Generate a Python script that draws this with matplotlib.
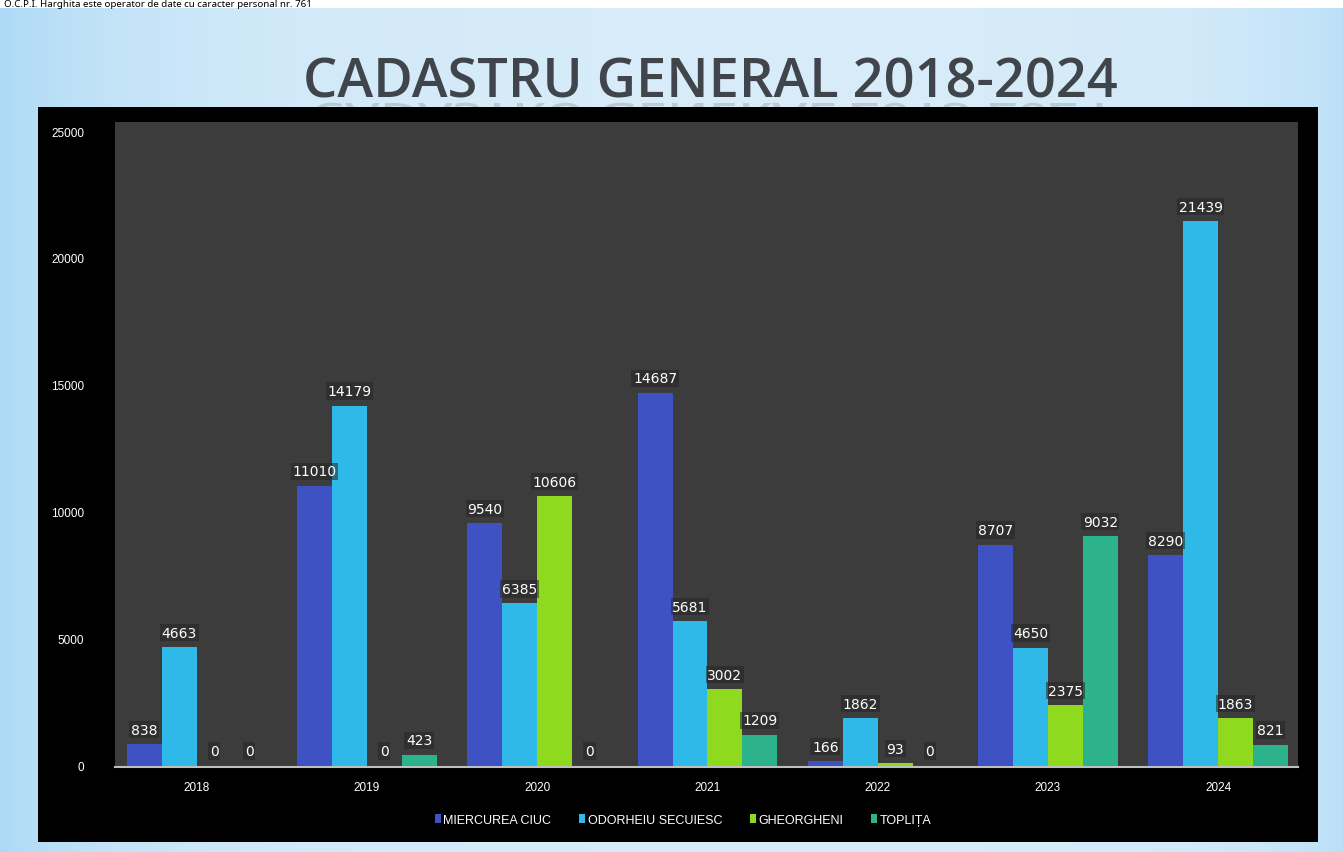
import numpy as np
import matplotlib
matplotlib.use("Agg")
import matplotlib.pyplot as plt
from matplotlib.textpath import TextPath
from matplotlib.patches import PathPatch, Rectangle
from matplotlib.font_manager import FontProperties
from matplotlib.colors import LinearSegmentedColormap
from matplotlib import transforms

# date
years = ["2018", "2019", "2020", "2021", "2022", "2023", "2024"]
series_names = ["MIERCUREA CIUC", "ODORHEIU SECUIESC", "GHEORGHENI", "TOPLIȚA"]
miercurea_ciuc = [838, 11010, 9540, 14687, 166, 8707, 8290]
odorheiu = [4663, 14179, 6385, 5681, 1862, 4650, 21439]
gheorgheni = [0, 0, 10606, 3002, 93, 2375, 1863]
toplita = [0, 423, 0, 1209, 0, 9032, 821]
yticks = [0, 5000, 10000, 15000, 20000, 25000]

colors = ["#3f52c4", "#2fb9e8", "#8fd91e", "#2db38c"]

fig = plt.figure(figsize=(13.43, 8.53), dpi=100)

# fundal cu gradient albastru deschis
bg = fig.add_axes([0, 0, 1, 0.99])
bg.axis("off")
xx = np.linspace(0, 1, 400)
g = 1 - np.exp(-xx / 0.12) * 0.9 - np.exp(-(1 - xx) / 0.08) * 0.6
grad = np.tile(g, (50, 1))
cm = LinearSegmentedColormap.from_list("bl", ["#a9d8f6", "#d8ecf9"])
bg.imshow(grad, cmap=cm, aspect="auto", extent=[0, 1, 0, 1], vmin=0, vmax=1)
bg.set_xlim(0, 1)
bg.set_ylim(0, 1)

fig.text(0.003, 0.9995, "O.C.P.I. Harghita este operator de date cu caracter personal nr. 761",
         fontsize=7, family="Noto Sans", color="black", ha="left", va="top")

# titlu + reflexie
title = "CADASTRU GENERAL 2018-2024"
fp = FontProperties(family="Open Sans", weight="semibold")
tp = TextPath((0, 0), title, size=53, prop=fp)
ext = tp.get_extents()
tr = (transforms.Affine2D().translate(-ext.x0 - ext.width / 2, 0)
      .scale(1, -0.6).translate(711, 853 - 104))
bg.add_patch(PathPatch(tp, transform=tr, facecolor="#8a9096", edgecolor="none",
                       alpha=0.35, zorder=2))
fig.text(0.529, 0.902, title, fontsize=39, family="Open Sans", weight="semibold",
         color="#40454b", ha="center", va="center")

# cadru negru
bg.add_patch(Rectangle((0.0283, 0.0117 / 0.99), 0.953, 0.862 / 0.99,
                       facecolor="black", edgecolor="none", zorder=3))

ax = fig.add_axes([0.0856, 0.0996, 0.881, 0.756])
ax.set_facecolor("#3c3c3c")
x = np.arange(len(years))
w = 0.205
all_series = [miercurea_ciuc, odorheiu, gheorgheni, toplita]
for i, (vals, name, c) in enumerate(zip(all_series, series_names, colors)):
    pos = x + (i - 1.5) * w
    ax.bar(pos, vals, w, color=c, label=name, zorder=3)
    for p, v in zip(pos, vals):
        ax.text(p, v + 300, str(v), ha="center", va="bottom", color="white", fontsize=10,
                family="DejaVu Sans", zorder=4,
                bbox=dict(boxstyle="square,pad=0.12", facecolor="#262626", edgecolor="none", alpha=0.55))

ax.set_xlim(-0.48, 6.47)
ax.set_ylim(-60, 25350)
ax.set_xticks(x)
ax.set_xticklabels(years, color="white", fontsize=8.5, family="Liberation Sans")
ax.set_yticks(yticks)
ax.set_yticklabels([str(t) for t in yticks], color="white", fontsize=8.5, family="Liberation Sans")
ax.tick_params(length=0, pad=10)
ax.tick_params(axis="y", pad=22)
for s in ["top", "right", "left"]:
    ax.spines[s].set_visible(False)
ax.spines["bottom"].set_color("#bfbfbf")
ax.spines["bottom"].set_linewidth(1.5)

ax.legend(loc="upper center", bbox_to_anchor=(0.48, -0.055), ncol=4, frameon=False,
          handlelength=0.5, handleheight=0.7, handletextpad=0.2,
          columnspacing=2.2, labelcolor="white", prop={"family": "Liberation Sans", "size": 9})

fig.savefig("out.png", dpi=100)
